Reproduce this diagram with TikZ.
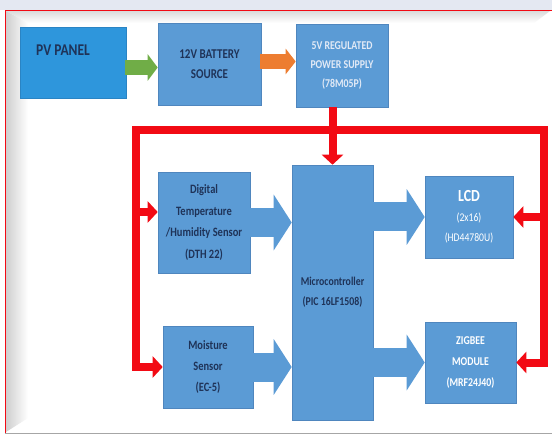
\documentclass[tikz,border=0pt]{standalone}
\usepackage{fontspec}
\setmainfont{Carlito}[FakeStretch=0.82]
\usetikzlibrary{arrows.meta,calc}
\definecolor{boxblue}{HTML}{5B9BD5}
\definecolor{boxedge}{HTML}{4F86BE}
\definecolor{pvblue}{HTML}{2E96DC}
\definecolor{pvedge}{HTML}{2A84C4}
\definecolor{navy}{HTML}{1F3358}
\definecolor{busred}{HTML}{F20A14}
\definecolor{arrgreen}{HTML}{70AD47}
\definecolor{arrorange}{HTML}{ED7D31}
\definecolor{topbg}{HTML}{E4E8F2}
\tikzset{
  blk/.style={fill=boxblue, draw=boxedge, line width=0.6bp, inner sep=2bp, align=center,
    font=\bfseries\fontsize{12.8}{21.5}\selectfont, text=navy},
  blkw/.style={blk, text=white},
  rb/.style={draw=busred, line width=8bp, line join=miter},
  rtip/.style={-{Triangle[length=10bp,width=21bp]}},
  bigarr/.style={draw=boxblue, line width=29bp, -{Triangle[length=18bp,width=55bp]}},
}
\begin{document}
\begin{tikzpicture}[x=1bp,y=-1bp]
\useasboundingbox (0,0) rectangle (552,435);
% frame
\fill[topbg] (0,0) rectangle (552,10);
\fill[white] (5,10) rectangle (552,435);
\shade[top color=gray!28, bottom color=white] (6,11) -- (550,11) -- (534,23) -- (28,23) -- cycle;
\shade[left color=gray!38, right color=white] (6,11) -- (28,23) -- (28,418) -- (6,432) -- cycle;
\draw[gray!70, line width=1bp] (5,433.5) -- (552,433.5);
\draw[busred, line width=0.9bp] (5,433) -- (5,10) -- (552,10);

% top row
\node[blk, fill=pvblue, draw=pvedge, minimum width=106bp, minimum height=71bp] (pv) at (73,62.5) {};
\node[font=\bfseries\fontsize{16.5}{18}\selectfont, text=navy, inner sep=0pt] (pvtext) at (63,50) {PV PANEL};
\node[blk, font=\bfseries\fontsize{13.5}{20}\selectfont, minimum width=103bp, minimum height=82bp] (bat) at (209.5,64) {12V BATTERY\\SOURCE};
\node[blk, text={rgb,255:red,226;green,234;blue,246}, font=\bfseries\fontsize{12}{19.5}\selectfont, minimum width=92bp, minimum height=83bp] (ps) at (342,65.5) {5V REGULATED\\POWER SUPPLY\\(78M05P)};

% middle
\node[blk, minimum width=92bp, minimum height=101bp] (dig) at (204,222.5) {Digital\\Temperature\\/Humidity Sensor\\(DTH 22)};
\node[blk, minimum width=90bp, minimum height=82bp] (moist) at (208,367) {Moisture\\Sensor\\(EC-5)};
\node[blk, font=\bfseries\fontsize{12}{20}\selectfont, minimum width=81bp, minimum height=255bp] (mc) at (332.5,292.5) {Microcontroller\\(PIC 16LF1508)};
\node[blkw, font=\fontsize{11.8}{20}\selectfont, minimum width=88bp, minimum height=82bp] (lcd) at (469,217) {{\bfseries\fontsize{17}{20}\selectfont LCD}\\(2x16)\\(HD44780U)};
\node[blkw, font=\bfseries\fontsize{12}{21}\selectfont, minimum width=91bp, minimum height=81bp] (zig) at (470.5,362.5) {ZIGBEE\\MODULE\\(MRF24J40)};

% top arrows
\draw[draw=arrgreen, line width=15bp, -{Triangle[length=10bp,width=26bp]}] ($(pv.east)+(-1,5)$) -- ($(pv.east -| bat.west)+(0,5)$);
\draw[draw=arrorange, line width=15bp, -{Triangle[length=10bp,width=25bp]}] ($(bat.east)+(-1,-2.5)$) -- ($(bat.east -| ps.west)+(0,-2.5)$);

% big blue arrows
\draw[bigarr] (dig.east) -- (dig.east -| mc.west);
\draw[bigarr] (moist.east) -- (moist.east -| mc.west);
\draw[bigarr] (mc.east |- lcd.west) -- (lcd.west);
\draw[bigarr] (mc.east |- zig.west) -- (zig.west);

% red power bus
\coordinate (tl) at (136,130);
\coordinate (tr) at (544,130);
\draw[rb, {Triangle[length=10bp,width=21bp]}-{Triangle[length=10bp,width=21bp]}] (moist.west) -| (tl) -- (tr) |- (zig.east);
\draw[rb, rtip] (tl |- 0,212) -- (dig.west |- 0,212);
\draw[rb, rtip] (tr |- lcd.east) -- (lcd.east);
\draw[rb, rtip] (mc.north |- ps.south) -- (mc.north);
\end{tikzpicture}
\end{document}
